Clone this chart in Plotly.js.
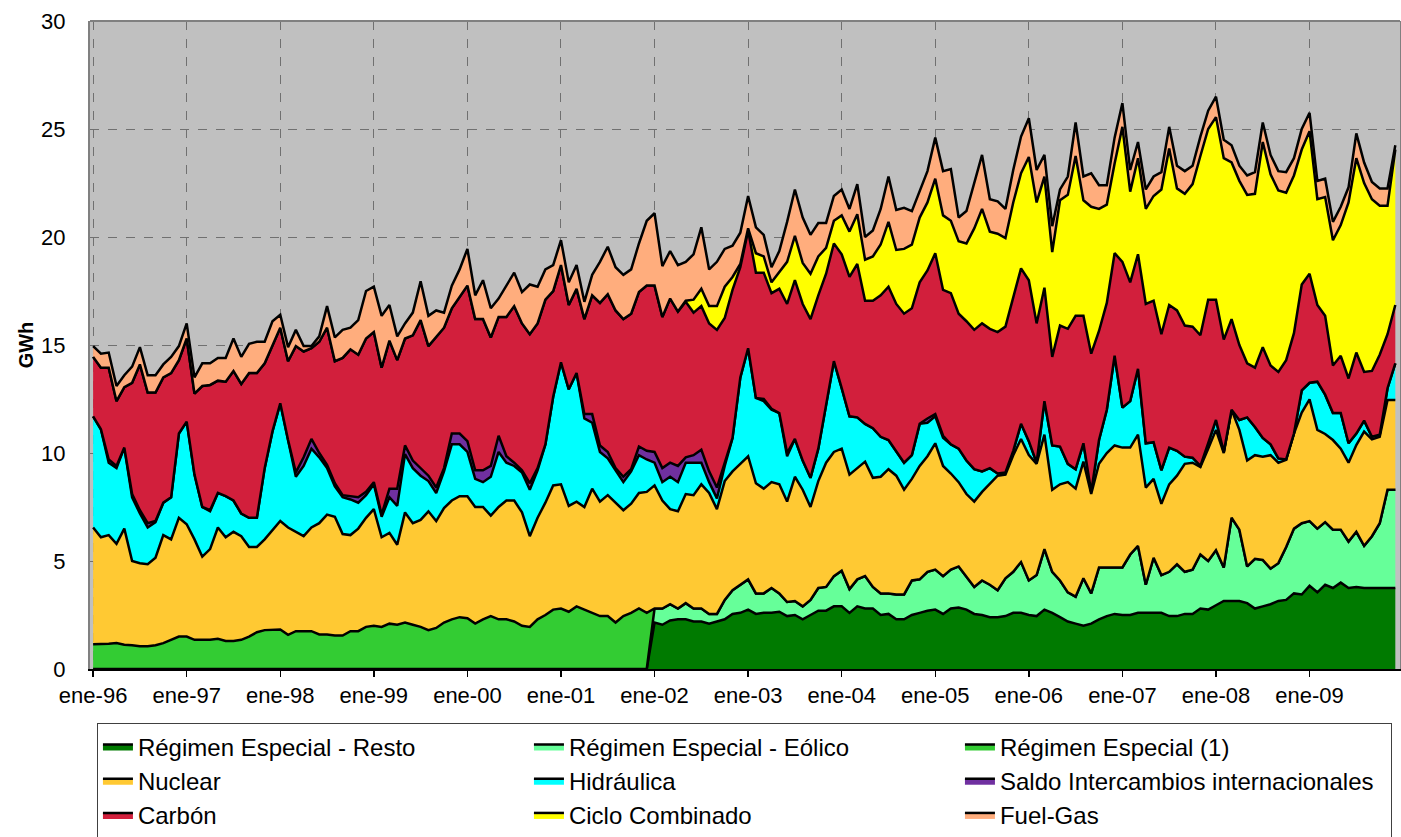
<!DOCTYPE html>
<html>
<head>
<meta charset="utf-8">
<script src="https://cdn.plot.ly/plotly-3.0.1.min.js"></script>
<style>
  html, body { margin: 0; padding: 0; background: #ffffff; }
  #chart { width: 1401px; height: 837px; }
</style>
</head>
<body>
<div id="chart"></div>
<script>
// Monthly values (GWh), January 1996 - December 2009, one row per year
const tickLabels = ["ene-96","ene-97","ene-98","ene-99","ene-00","ene-01","ene-02",
                    "ene-03","ene-04","ene-05","ene-06","ene-07","ene-08","ene-09"];

const resto = [
  0,0,0,0,0,0,0,0,0,0,0,0,
  0,0,0,0,0,0,0,0,0,0,0,0,
  0,0,0,0,0,0,0,0,0,0,0,0,
  0,0,0,0,0,0,0,0,0,0,0,0,
  0,0,0,0,0,0,0,0,0,0,0,0,
  0,0,0,0,0,0,0,0,0,0,0,0,
  2.15,2.05,2.25,2.3,2.3,2.2,2.2,2.1,2.2,2.3,2.55,2.6,
  2.75,2.55,2.6,2.6,2.65,2.45,2.5,2.3,2.5,2.7,2.7,2.9,
  2.9,2.6,2.9,2.8,2.8,2.5,2.55,2.3,2.3,2.5,2.6,2.7,
  2.75,2.55,2.8,2.85,2.75,2.55,2.5,2.4,2.4,2.45,2.6,2.6,
  2.5,2.45,2.75,2.6,2.4,2.2,2.1,2.0,2.1,2.3,2.45,2.55,
  2.5,2.5,2.6,2.6,2.6,2.6,2.45,2.45,2.55,2.55,2.8,2.75,
  2.95,3.15,3.15,3.15,3.05,2.8,2.9,3.0,3.15,3.2,3.5,3.45,
  3.85,3.55,3.9,3.75,4.0,3.75,3.8,3.75,3.75,3.75,3.75,3.75
];

const eolico = [
  0,0,0,0,0,0,0,0,0,0,0,0,
  0,0,0,0,0,0,0,0,0,0,0,0,
  0,0,0,0,0,0,0,0,0,0,0,0,
  0,0,0,0,0,0,0,0,0,0,0,0,
  0,0,0,0,0,0,0,0,0,0,0,0,
  0,0,0,0,0,0,0,0,0,0,0,0,
  0.65,0.75,0.75,0.5,0.75,0.6,0.6,0.45,0.35,0.9,1.1,1.3,
  1.4,0.95,0.9,1.15,0.85,0.65,0.65,0.6,0.7,1.05,1.1,1.4,
  1.65,1.1,1.25,1.5,1.0,1.0,0.95,1.15,1.15,1.6,1.55,1.8,
  1.85,1.75,1.8,1.9,1.55,1.25,1.6,1.5,1.25,1.75,1.9,2.35,
  1.6,1.9,2.8,1.9,1.7,1.35,1.25,2.2,1.4,2.4,2.25,2.15,
  2.2,2.8,3.1,1.3,2.55,1.75,2.05,2.4,1.95,2.05,2.5,2.25,
  2.55,1.55,3.85,3.3,1.7,2.3,2.15,1.65,1.75,2.45,3.0,3.3,
  3.0,2.95,2.9,2.7,2.45,2.15,2.55,1.95,2.4,3.0,4.55,4.55
];

const regimenEspecial = [
  1.15,1.15,1.17,1.2,1.12,1.1,1.05,1.05,1.1,1.2,1.35,1.5,
  1.5,1.35,1.35,1.35,1.4,1.3,1.3,1.35,1.5,1.7,1.8,1.82,
  1.83,1.58,1.75,1.75,1.75,1.6,1.6,1.55,1.55,1.75,1.75,1.95,
  2.0,1.95,2.1,2.05,2.15,2.05,1.95,1.8,1.9,2.15,2.3,2.4,
  2.35,2.1,2.3,2.45,2.3,2.3,2.2,2.0,1.95,2.3,2.5,2.75,
  2.8,2.65,2.9,2.75,2.6,2.45,2.45,2.15,2.45,2.6,2.8,2.6,
  0,0,0,0,0,0,0,0,0,0,0,0,
  0,0,0,0,0,0,0,0,0,0,0,0,
  0,0,0,0,0,0,0,0,0,0,0,0,
  0,0,0,0,0,0,0,0,0,0,0,0,
  0,0,0,0,0,0,0,0,0,0,0,0,
  0,0,0,0,0,0,0,0,0,0,0,0,
  0,0,0,0,0,0,0,0,0,0,0,0,
  0,0,0,0,0,0,0,0,0,0,0,0
];

const nuclear = [
  5.4,4.95,5.03,4.6,5.38,3.9,3.85,3.8,4.05,5.0,4.65,5.5,
  5.2,4.65,3.85,4.2,5.15,4.8,5.05,4.8,4.15,3.95,4.2,4.58,
  5.02,4.97,4.6,4.4,4.8,5.15,5.55,5.5,4.7,4.45,4.75,5.05,
  5.4,4.15,4.2,3.7,5.1,4.7,4.95,5.5,4.95,5.3,5.5,5.6,
  5.65,5.4,5.2,4.65,5.2,5.5,5.6,5.25,4.2,4.7,5.2,5.75,
  5.75,4.9,4.85,4.75,5.75,5.3,5.6,5.55,4.9,5.05,5.35,5.6,
  5.7,5.0,4.4,4.5,5.05,5.25,5.75,5.6,4.85,5.5,5.5,5.6,
  5.7,5.1,4.85,4.9,5.05,4.65,5.75,5.4,4.3,4.95,5.75,5.75,
  5.65,5.3,5.15,5.3,5.05,5.4,5.75,5.5,4.85,4.7,5.25,5.35,
  5.85,5.1,4.45,3.9,3.8,3.95,4.1,4.7,5.3,4.8,5.4,5.7,
  5.8,5.15,5.3,3.8,4.45,5.1,5.0,5.4,4.6,4.8,5.3,5.65,
  5.55,4.95,5.15,4.5,3.65,3.3,4.05,4.1,5.0,4.95,4.05,5.2,
  5.57,5.3,5.0,4.62,4.9,4.8,4.78,5.25,4.65,4.03,4.4,5.12,
  5.63,4.57,4.08,4.15,3.75,3.65,4.02,5.29,4.48,4.0,4.15,4.15
];

const hidraulica = [
  5.15,5.0,3.35,3.5,3.75,2.95,2.3,1.7,1.65,1.5,1.95,3.9,
  4.75,3.0,2.3,1.75,1.6,1.9,1.45,1.05,1.35,1.35,3.3,4.6,
  5.45,4.05,2.55,3.25,3.65,3.05,2.15,1.4,1.7,1.65,1.2,1.05,
  1.15,0.95,1.65,1.8,2.7,2.55,2.05,1.4,1.3,1.7,2.6,2.4,
  2.05,1.3,1.15,1.8,2.55,1.75,1.6,1.85,2.15,2.2,2.7,4.1,
  5.65,5.4,5.95,4.1,3.05,2.3,1.7,1.5,1.3,1.5,1.75,1.5,
  1.05,0.85,1.5,1.35,1.45,1.5,1.0,0.5,0.5,0.7,1.55,4.0,
  5.0,3.95,4.05,3.35,3.3,2.1,1.75,1.35,1.35,1.5,2.7,4.2,
  2.8,2.7,2.35,1.75,2.3,1.85,1.35,1.1,1.25,1.1,1.95,1.55,
  1.25,1.3,1.35,1.55,1.55,1.5,0.95,0.7,0.1,0.1,0.2,0.7,
  0.65,0.05,1.55,2.05,1.75,0.85,0.9,0.85,0.1,1.1,2.0,4.15,
  1.85,2.15,3.05,2.05,1.7,1.55,1.7,1.15,0.33,0.23,0.05,0.25,
  0.46,0.05,0,0.46,2.0,1.3,0.87,0.5,0.2,0.02,0,1.03,
  0.77,2.23,1.82,1.25,1.65,0.9,0.53,0.51,0.12,0.1,0.55,1.7
];

const saldo = [
  0,0,0.15,0.1,0,0.15,0.15,0.2,0.05,0,0,0,
  0,0,0,0.05,0,0,0,0,0,0,0,0,
  0,0,0.2,0.4,0.45,0.2,0.15,0.15,0.1,0.15,0.25,0.15,
  0.1,0.1,0.4,0.8,0.4,0.35,0.35,0.25,0.25,0.15,0.5,0.5,
  0.5,0.4,0.55,0.5,0.75,0.3,0.15,0.1,0.3,0.1,0,0,
  0,0,0,0.2,0.4,0.3,0.3,0.1,0.25,0.1,0.4,0.4,
  0.5,0.65,0.65,0.75,0.25,0.35,0.6,0.5,0.5,0.1,0,0,
  0,0,0.1,0.05,0,0.15,0,0,0,0,0,0,
  0,0,0,0,0,0,0,0,0,0,0,0.2,
  0.1,0.1,0,0,0,0,0,0,0,0,0,0,
  0,0,0,0,0,0,0,0,0,0,0,0,
  0,0,0,0,0,0,0,0,0,0,0,0,
  0,0,0,0,0,0,0,0,0,0,0,0,
  0,0,0,0,0,0,0,0,0,0,0,0
];

const carbon = [
  2.75,2.85,4.25,3.0,2.8,5.15,6.75,6.05,5.95,5.8,5.75,3.4,
  3.85,3.75,5.6,5.8,5.2,5.3,6.0,6.0,6.7,6.7,4.85,4.0,
  3.5,3.65,5.85,4.9,4.2,5.15,6.35,5.65,6.35,6.8,6.6,7.1,
  6.95,6.8,6.85,5.95,4.95,5.8,6.85,6.0,6.95,6.5,5.8,6.3,
  7.2,7.0,7.0,5.95,5.5,6.45,7.25,6.8,6.9,6.7,6.7,4.9,
  4.5,3.9,3.9,4.4,5.5,6.6,7.3,7.3,7.3,7.2,7.15,7.65,
  7.7,7.0,7.6,7.15,7.2,6.6,6.65,6.85,7.3,6.75,6.85,5.1,
  5.45,5.8,5.85,5.35,5.75,6.9,7.35,7.25,7.35,7.1,6.05,5.45,
  6.2,6.45,7.1,5.7,5.9,6.55,7.1,6.85,6.9,6.8,6.55,6.85,
  7.45,6.75,7.0,6.25,6.45,6.45,6.85,6.45,6.55,6.75,7.1,7.2,
  7.45,6.45,5.25,4.1,5.6,6.25,7.1,5.9,6.4,5.05,4.95,4.75,
  6.75,5.5,5.3,6.45,6.55,6.3,6.6,6.5,6.07,6.07,6.05,6.65,
  5.57,5.2,4.2,3.47,2.5,2.75,4.2,3.65,4.0,4.6,4.65,4.9,
  5.05,3.55,3.65,2.2,2.65,3.0,3.75,2.25,3.05,3.7,2.5,2.7
];

const cicloCombinado = [
  0,0,0,0,0,0,0,0,0,0,0,0,
  0,0,0,0,0,0,0,0,0,0,0,0,
  0,0,0,0,0,0,0,0,0,0,0,0,
  0,0,0,0,0,0,0,0,0,0,0,0,
  0,0,0,0,0,0,0,0,0,0,0,0,
  0,0,0,0,0,0,0,0,0,0,0,0,
  0,0,0,0,0.05,0.6,0.8,0.8,1.1,1.45,0.6,0.15,
  0.1,0.9,0.75,0.5,0.8,1.95,2.05,1.9,2.1,1.8,1.2,1.05,
  1.8,2.1,2.3,1.9,2.05,2.35,3.0,2.5,3.0,2.95,3.0,3.15,
  3.45,3.45,3.35,3.35,3.6,4.7,5.3,4.5,4.55,4.1,4.4,4.4,
  5.7,5.6,5.15,4.85,5.8,6.2,7.4,5.35,6.8,5.65,4.55,4.15,
  6.25,4.2,4.45,4.4,4.85,6.7,7.25,5.65,6.1,6.6,8.3,7.9,
  8.45,8.4,7.25,7.6,7.8,8.05,9.5,8.85,8.4,7.75,7.3,6.25,
  6.6,4.9,5.5,5.8,6.05,8.15,9.0,8.75,7.95,6.9,5.95,7.2
];

const fuelGas = [
  0.5,0.65,0.7,0.7,0.55,0.75,0.8,0.8,0.8,0.6,0.75,0.65,
  0.7,0.75,1.05,1.0,1.05,1.1,1.5,1.25,1.35,1.45,1.0,1.1,
  0.6,0.65,0.75,0.25,0.1,0.25,1.0,1.1,1.3,1.0,1.6,2.2,
  2.1,2.4,1.65,1.1,0.7,1.05,1.8,1.4,1.25,0.7,1.05,1.3,
  1.7,1.1,1.8,1.35,0.85,1.45,1.55,1.45,2.3,1.7,1.4,1.2,
  1.15,1.05,1.1,0.8,0.95,1.9,2.2,2.0,2.05,2.05,2.25,3.0,
  3.35,2.35,2.2,2.15,1.8,2.1,2.85,1.7,2.05,1.75,1.45,1.45,
  1.5,1.2,1.0,0.7,0.95,1.85,2.15,2.1,1.8,1.55,1.15,1.15,
  1.2,1.05,1.4,1.05,1.2,1.65,2.1,1.85,1.9,1.55,1.2,1.45,
  1.9,2.05,2.4,1.1,1.5,2.05,2.5,1.5,1.5,1.35,1.5,1.7,
  1.8,1.5,1.0,1.2,0.5,0.85,1.55,1.1,1.55,1.1,0.9,1.2,
  1.1,1.0,0.75,0.9,0.9,0.8,1.0,1.05,1.05,0.85,0.9,0.85,
  0.95,0.85,0.8,0.7,0.9,1.0,0.9,0.9,0.9,0.95,0.8,0.95,
  0.85,0.85,0.85,0.85,0.85,0.7,1.15,0.95,0.8,0.8,0.8,0.2
];

const seriesNames = ["Régimen Especial - Resto","Régimen Especial - Eólico","Régimen Especial (1)",
                     "Nuclear","Hidráulica","Saldo Intercambios internacionales",
                     "Carbón","Ciclo Combinado","Fuel-Gas"];
const seriesColors = ["#007A00","#66FF99","#33CC33","#FFC933","#00FFFF","#7030A0","#D21F3C","#FFFF00","#FFAD7D"];
const seriesData = [resto, eolico, regimenEspecial, nuclear, hidraulica, saldo, carbon, cicloCombinado, fuelGas];

// month index positions (0 = ene-96)
const months = resto.map((_, i) => i);
const tickPositions = tickLabels.map((_, k) => k * 12);

const traces = seriesData.map((vals, k) => ({
  type: "scatter",
  mode: "lines",
  x: months,
  y: vals,
  name: seriesNames[k],
  stackgroup: "energia",
  fillcolor: seriesColors[k],
  line: { color: "#000000", width: 2.5, shape: "linear" },
  hoverinfo: "skip"
}));

const layout = {
  width: 1401,
  height: 837,
  paper_bgcolor: "#ffffff",
  plot_bgcolor: "#C0C0C0",
  font: { family: "Liberation Sans, Arial, sans-serif", color: "#000000", size: 22 },
  margin: { l: 90, r: 1, t: 21, b: 168, autoexpand: false },
  showlegend: true,
  hovermode: false,
  xaxis: {
    range: [-0.4, 167.6],
    tickmode: "array",
    tickvals: tickPositions,
    ticktext: tickLabels,
    ticks: "outside",
    ticklen: 6,
    tickwidth: 1.5,
    tickcolor: "#000000",
    showgrid: true,
    gridcolor: "#707070",
    griddash: "dash",
    gridwidth: 1,
    showline: true,
    linecolor: "#000000",
    linewidth: 2,
    zeroline: false,
    tickfont: { size: 22 },
    fixedrange: true
  },
  yaxis: {
    range: [0, 30],
    tickmode: "array",
    tickvals: [0, 5, 10, 15, 20, 25, 30],
    ticks: "",
    ticklabelstandoff: 18,
    showgrid: true,
    gridcolor: "#707070",
    griddash: "dash",
    gridwidth: 1,
    showline: true,
    mirror: true,
    linecolor: "#808080",
    linewidth: 2,
    zeroline: false,
    tickfont: { size: 22 },
    title: { text: "<b>GWh</b>", font: { size: 20 }, standoff: 2 },
    fixedrange: true
  },
  shapes: [{
    type: "line", xref: "paper", yref: "paper", x0: 0, x1: 1, y0: 1, y1: 1,
    line: { color: "#808080", width: 2 }
  }],
  legend: {
    orientation: "h",
    traceorder: "normal",
    x: 0.0053,
    xanchor: "left",
    y: -0.084,
    yanchor: "top",
    bgcolor: "#ffffff",
    bordercolor: "#404040",
    borderwidth: 1,
    entrywidth: 386,
    entrywidthmode: "pixels",
    font: { size: 24 },
    itemwidth: 30,
    itemclick: false,
    itemdoubleclick: false
  }
};

Plotly.newPlot("chart", traces, layout, { staticPlot: true, displayModeBar: false });
</script>
</body>
</html>
